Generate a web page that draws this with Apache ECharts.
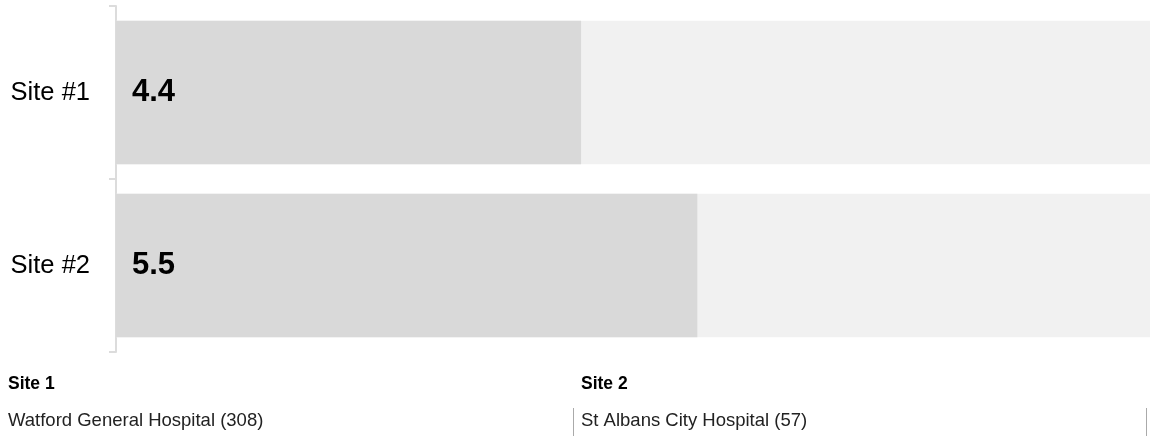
<!DOCTYPE html>
<html>
<head>
<meta charset="utf-8">
<script src="https://cdn.jsdelivr.net/npm/echarts@6/dist/echarts.min.js"></script>
<style>
html,body{margin:0;padding:0;background:#fff;}
#chart{width:1150px;height:436px;}
</style>
</head>
<body>
<div id="chart"></div>
<script>
const categories = ['Site #1', 'Site #2'];
const values = [4.4, 5.5];
const axisMax = 10;
const siteHeaders = ['Site 1', 'Site 2'];
const siteNames = ['Watford General Hospital (308)', 'St Albans City Hospital (57)'];

const FONT = '"Liberation Sans", Arial, Helvetica, sans-serif';
const chart = echarts.init(document.getElementById('chart'), null, {renderer: 'canvas'});

const graphics = [];
siteHeaders.forEach((h, i) => {
  const x0 = i === 0 ? 8 : 581;
  graphics.push({
    type: 'text', x: x0, y: 384,
    style: {text: h, font: 'bold 17.5px ' + FONT, fill: '#000', verticalAlign: 'middle'}
  });
  graphics.push({
    type: 'text', x: x0, y: 421,
    style: {text: siteNames[i], font: '18.5px ' + FONT, fill: '#222', verticalAlign: 'middle'}
  });
});
[573, 1146].forEach(x => {
  graphics.push({
    type: 'line', shape: {x1: x + 0.5, y1: 408, x2: x + 0.5, y2: 436},
    style: {stroke: '#aaaaaa', lineWidth: 1}
  });
});

chart.setOption({
  animation: false,
  grid: {left: 116, top: 6, bottom: 84, right: -23, containLabel: false, outerBoundsMode: 'none'},
  xAxis: {
    type: 'value', min: 0, max: axisMax, show: false
  },
  yAxis: {
    type: 'category', data: categories, inverse: true,
    axisLine: {show: true, lineStyle: {color: '#dcdcdc', width: 2}},
    axisTick: {show: true, length: 7, lineStyle: {color: '#dcdcdc', width: 2}},
    axisLabel: {color: '#000', fontSize: 25.5, fontFamily: FONT, margin: 26}
  },
  series: [{
    type: 'bar',
    data: values,
    barCategoryGap: '17%',
    itemStyle: {color: '#d9d9d9'},
    showBackground: true,
    backgroundStyle: {color: '#f1f1f1'},
    label: {
      show: true, position: 'insideLeft', distance: 16,
      color: '#000', fontWeight: 'bold', fontSize: 31, fontFamily: FONT,
      formatter: p => p.value.toFixed(1)
    }
  }],
  graphic: graphics
});
</script>
</body>
</html>
